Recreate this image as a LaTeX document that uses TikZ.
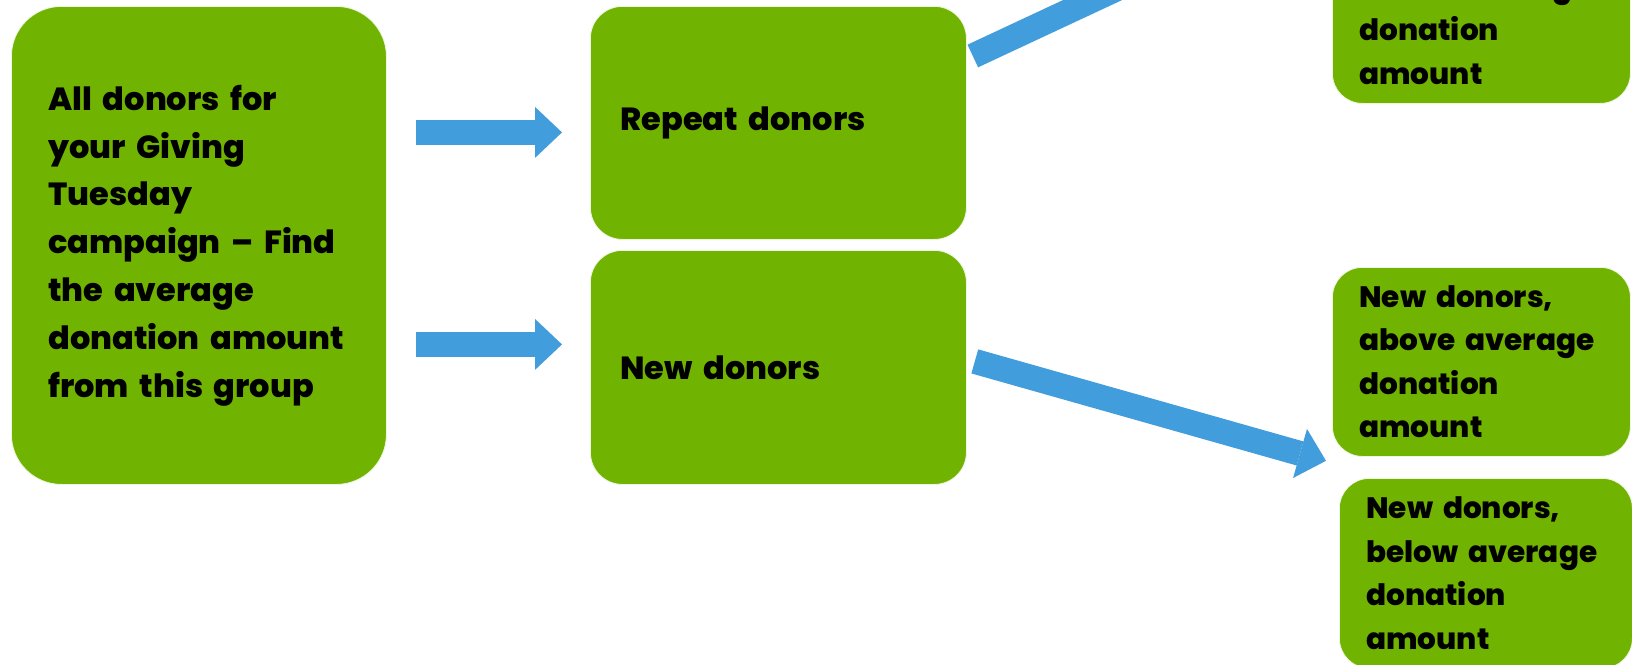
\documentclass[tikz,border=0pt]{standalone}
\usepackage{fontspec}
\setmainfont{Poppins}[BoldFont={Poppins ExtraBold}]
\usepackage{tikz}
\usepackage{xcolor}
\usetikzlibrary{arrows.meta,calc}

\definecolor{leafgreen}{HTML}{70B300}
\definecolor{arrowblue}{HTML}{419DDC}

\begin{document}
\begin{tikzpicture}[
    x=1pt, y=-1pt,
    group/.style={rectangle, draw=white!88!leafgreen, line width=0.8pt, fill=leafgreen, align=left, anchor=north west, font=\bfseries\fontsize{32}{47.8}\selectfont},
    bigblock/.style={group, text width=301pt, inner xsep=37pt, minimum height=478pt, rounded corners=50pt},
    midblock/.style={group, text width=316pt, inner xsep=30pt, minimum height=234pt, rounded corners=32pt},
    sideblock/.style={group, text width=244pt, inner xsep=27pt, minimum height=190pt, rounded corners=30pt, font=\bfseries\fontsize{29.5}{43.5}\selectfont},
    flow/.style={draw=arrowblue, line width=25pt, -{Triangle[width=51pt, length=27pt, line width=0pt]}}
]
\useasboundingbox (0,0) rectangle (1632,664);
\clip (0,0) rectangle (1632,664);

\node [bigblock] (all) at (11,6) {All donors for\\your Giving\\Tuesday\\campaign -- Find\\the average\\\mbox{donation amount}\\from this group};
\node [midblock, minimum height=233pt] (repeat) at (590,6) {Repeat donors};
\node [midblock] (new) at (590,250) {New donors};
\node [sideblock] (repbelow) at (1332,-87) {Repeat donors,\\below average\\donation\\amount};
\node [sideblock, minimum height=189pt] (newabove) at (1332,267) {New donors,\\above average\\donation\\amount};
\node [sideblock, text width=239pt] (newbelow) at (1339,478) {New donors,\\below average\\donation\\amount};

% split of the whole group, then of each half
\path [flow] ($(all.east)+(29,-113)$) -- ($(repeat.west)+(-28,9.5)$);
\path [flow] ($(all.east)+(29,99)$) -- ($(new.west)+(-28,-23)$);
\path [flow] ($(repeat.north east)+(6,50)$) -- ($(repbelow.north west)+(-6,-22)$);
\path [flow] ($(new.east)+(8,-6)$) -- ($(newabove.south west)+(-6,4)$);

\end{tikzpicture}
\end{document}
